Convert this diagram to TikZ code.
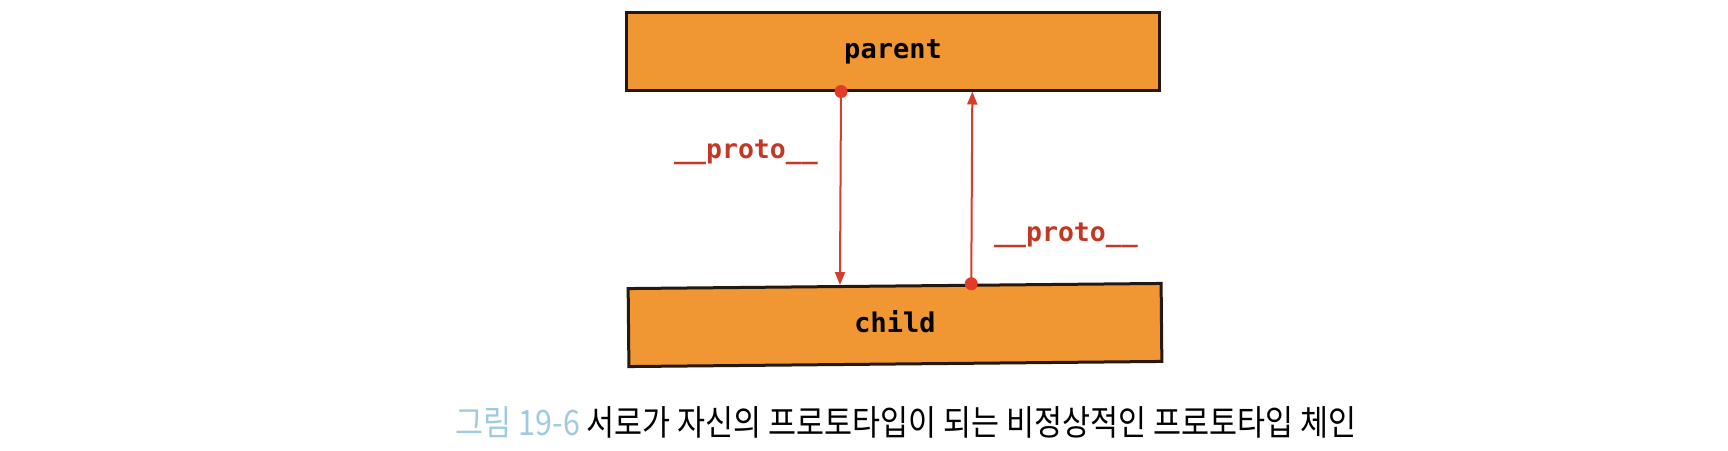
\documentclass[tikz,border=0pt]{standalone}
\usepackage{fontspec}
\newfontfamily\monob{DejaVu Sans Mono}[BoldFont={* Bold}]
\newfontfamily\kr{Noto Sans CJK KR}
\usetikzlibrary{calc,arrows.meta}
\definecolor{boxfill}{RGB}{240,150,50}
\definecolor{boxline}{RGB}{36,24,16}
\definecolor{arrred}{RGB}{214,62,44}
\definecolor{dotred}{RGB}{228,58,40}
\definecolor{lblred}{RGB}{194,56,36}
\definecolor{capblue}{RGB}{160,202,226}
\tikzset{
  objbox/.style={draw=boxline, line width=3pt, fill=boxfill, minimum width=533pt, minimum height=78pt, inner sep=0pt, text height=15pt, text depth=0pt, font=\monob\bfseries\fontsize{27}{30}\selectfont},
  link/.style={draw=arrred, line width=2pt, -{Triangle[length=13pt,width=10pt]}},
  dotmark/.style={circle, fill=dotred, inner sep=0pt, minimum size=13pt},
  protolbl/.style={text=lblred, font=\monob\bfseries\fontsize{26.5}{30}\selectfont, inner sep=0pt},
}
\begin{document}
\begin{tikzpicture}[x=1pt,y=-1pt]
\useasboundingbox (0,0) rectangle (1728,450);
\node[objbox] (parent) at (893,51) {parent};
\node[objbox, rotate=0.55] (child) at (895,325) {child};
\coordinate (p1) at ($(parent.south west)!0.403!(parent.south east)$);
\coordinate (c1) at ($(child.north west)!0.398!(child.north east)$);
\coordinate (c2) at ($(child.north west)!0.643!(child.north east)$);
\coordinate (p2) at ($(parent.south west)!0.648!(parent.south east)$);
\draw[link] (p1) -- (c1);
\draw[link] (c2) -- (p2);
\node[dotmark] (d1) at (p1) {};
\node[dotmark] (d2) at (c2) {};
\node[protolbl] (l1) at (746,152) {\_\_proto\_\_};
\node[protolbl] (l2) at (1066,235) {\_\_proto\_\_};
\node[inner sep=0pt, xscale=0.87] (cap) at (906,422) {\kr\fontsize{35}{40}\selectfont\textcolor{capblue}{그림 19-6} 서로가 자신의 프로토타입이 되는 비정상적인 프로토타입 체인};
\end{tikzpicture}
\end{document}
